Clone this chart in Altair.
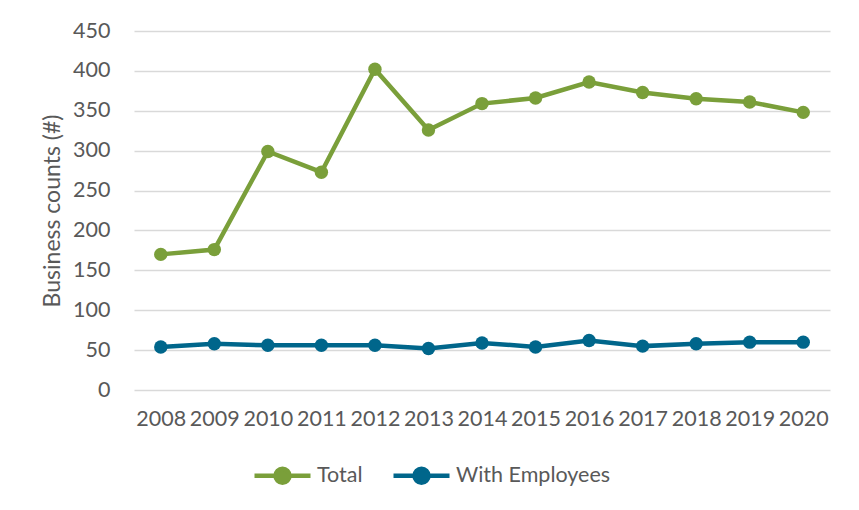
import altair as alt
import pandas as pd

years = ["2008", "2009", "2010", "2011", "2012", "2013", "2014",
         "2015", "2016", "2017", "2018", "2019", "2020"]
total = [170, 176, 299, 273, 402, 326, 359, 366, 386, 373, 365, 361, 348]
with_employees = [54, 58, 56, 56, 56, 52, 59, 54, 62, 55, 58, 60, 60]

series_names = ["Total", "With Employees"]
series_colors = ["#7A9F3A", "#00668B"]

rows = []
for y, t, w in zip(years, total, with_employees):
    rows.append({"Year": y, "Series": "Total", "Count": t})
    rows.append({"Year": y, "Series": "With Employees", "Count": w})
df = pd.DataFrame(rows)

FONT = "Lato"
GRAY = "#595959"

legend_symbol = ("M-1,0L1,0M-0.25,0A0.25,0.25,0,1,1,0.25,0"
                 "A0.25,0.25,0,1,1,-0.25,0Z")

color = alt.Color(
    "Series:N",
    scale=alt.Scale(domain=series_names, range=series_colors),
    legend=alt.Legend(
        title=None, orient="none", direction="horizontal",
        legendX=118, legendY=414,
        symbolType=legend_symbol, symbolSize=3136, symbolStrokeWidth=4.5,
        labelFont=FONT, labelFontSize=21.5, labelColor=GRAY,
        labelOffset=4, columnPadding=21,
    ),
)

x = alt.X("Year:O", sort=years,
          scale=alt.Scale(paddingOuter=0.5, paddingInner=0),
          axis=alt.Axis(title=None, labelAngle=0, ticks=False, domain=False,
                        labelFont=FONT, labelFontSize=21.5, labelColor=GRAY,
                        labelPadding=18))
y = alt.Y("Count:Q", scale=alt.Scale(domain=[0, 450], nice=False),
          axis=alt.Axis(title="Business counts (#)", values=list(range(0, 451, 50)),
                        ticks=False, domain=False,
                        labelFont=FONT, labelFontSize=21.5, labelColor=GRAY,
                        labelPadding=24,
                        titleFont=FONT, titleFontSize=23, titleColor=GRAY,
                        titleFontWeight="normal", titlePadding=8,
                        gridColor="#D9D9D9", gridWidth=1.5))

base = alt.Chart(df).encode(x=x, y=y, color=color, detail="Series:N")
lines = base.mark_line(strokeWidth=4.5)
points = base.mark_circle(size=180, opacity=1)

chart = alt.layer(lines, points).properties(
    width=696, height=359,
    autosize=alt.AutoSizeParams(type="none"),
    padding={"left": 126, "top": 23, "right": 20, "bottom": 110},
).configure(background="white").configure_view(stroke=None)

chart.save("out.html", embed_options={"renderer": "svg", "actions": False})
